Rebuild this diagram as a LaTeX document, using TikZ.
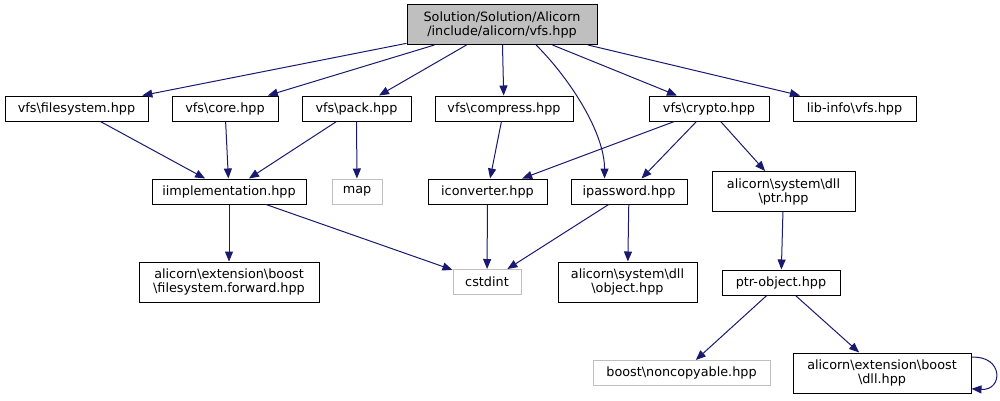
\documentclass[tikz,border=0pt]{standalone}
\usepackage{fontspec}
\setmainfont{DejaVu Sans}
\usepackage{xcolor}
\usepackage{tikz}
\usetikzlibrary{arrows.meta}
\definecolor{edgeblue}{HTML}{191970}
\definecolor{missgray}{HTML}{BFBFBF}
\newcommand{\bksl}{\textbackslash}

\begin{document}
\begin{tikzpicture}[x=1pt, y=1pt, >={Triangle[length=10pt,width=8pt]},
    hdr/.style={draw=black, line width=1pt, fill=white, align=center,
        font=\fontsize{12.8}{14}\selectfont, inner xsep=3pt, inner ysep=2pt,
        minimum height=25pt},
    twoline/.style={minimum height=40pt},
    missing/.style={draw=missgray},
    inc/.style={->, draw=edgeblue, line width=1pt}]
    \useasboundingbox (0,0) rectangle (1000,-400);

    % Tệp gốc
    \node[hdr, twoline, fill=missgray, minimum width=190pt] (root) at (502,-24.5)
        {Solution/Solution/Alicorn\\/include/alicorn/vfs.hpp};

    % Hàng 1
    \node[hdr, minimum width=143pt] (fs) at (76.5,-108.5) {vfs\bksl filesystem.hpp};
    \node[hdr, minimum width=106pt] (core) at (225,-108.5) {vfs\bksl core.hpp};
    \node[hdr, minimum width=109pt] (pack) at (356.5,-108.5) {vfs\bksl pack.hpp};
    \node[hdr, minimum width=138pt] (compress) at (504,-108.5) {vfs\bksl compress.hpp};
    \node[hdr, minimum width=120pt] (crypto) at (709,-108.5) {vfs\bksl crypto.hpp};
    \node[hdr, minimum width=123pt] (libinfo) at (854.5,-108.5) {lib-info\bksl vfs.hpp};

    % Hàng 2
    \node[hdr, minimum width=154pt] (iimpl) at (229,-191.5) {iimplementation.hpp};
    \node[hdr, missing, minimum width=50pt] (map) at (357,-191.5) {map};
    \node[hdr, minimum width=119pt] (iconv) at (487.5,-191.5) {iconverter.hpp};
    \node[hdr, minimum width=116pt] (ipw) at (629,-191.5) {ipassword.hpp};
    \node[hdr, twoline, minimum width=143pt] (ptr) at (783.5,-191.5)
        {alicorn\bksl system\bksl dll\\\bksl ptr.hpp};

    % Hàng 3
    \node[hdr, twoline, minimum width=180pt] (fwd) at (229,-282)
        {alicorn\bksl extension\bksl boost\\\bksl filesystem.forward.hpp};
    \node[hdr, missing, minimum width=68pt] (cstdint) at (487,-282) {cstdint};
    \node[hdr, twoline, minimum width=139pt] (object) at (627.5,-282)
        {alicorn\bksl system\bksl dll\\\bksl object.hpp};
    \node[hdr, minimum width=118pt] (ptrobj) at (781,-282.5) {ptr-object.hpp};

    % Hàng 4
    \node[hdr, missing, minimum width=177pt] (noncopy) at (681.5,-373)
        {boost\bksl noncopyable.hpp};
    \node[hdr, twoline, minimum width=178pt] (dll) at (882,-373)
        {alicorn\bksl extension\bksl boost\\\bksl dll.hpp};

    % Các cạnh include
    \foreach \t in {fs, core, pack, compress, crypto, libinfo}
        \draw[inc] (root) -- (\t);
    \draw[inc] (root.-31) .. controls +(35,-35) and +(0,45) .. (ipw.152.5);
    \foreach \s in {fs, core, pack}
        \draw[inc] (\s) -- (iimpl);
    \draw[inc] (pack) -- (map);
    \draw[inc] (compress) -- (iconv);
    \draw[inc] (crypto) -- (iconv);
    \draw[inc] (crypto) -- (ipw);
    \draw[inc] (crypto) -- (ptr);
    \draw[inc] (iimpl) -- (fwd);
    \foreach \s in {iimpl, iconv, ipw}
        \draw[inc] (\s) -- (cstdint);
    \draw[inc] (ipw) -- (object);
    \draw[inc] (ptr) -- (ptrobj);
    \draw[inc] (ptrobj) -- (noncopy);
    \draw[inc] (ptrobj) -- (dll);
    \draw[inc] (dll.10) .. controls +(32,2) and +(32,-2) .. (dll.-10);
\end{tikzpicture}
\end{document}
